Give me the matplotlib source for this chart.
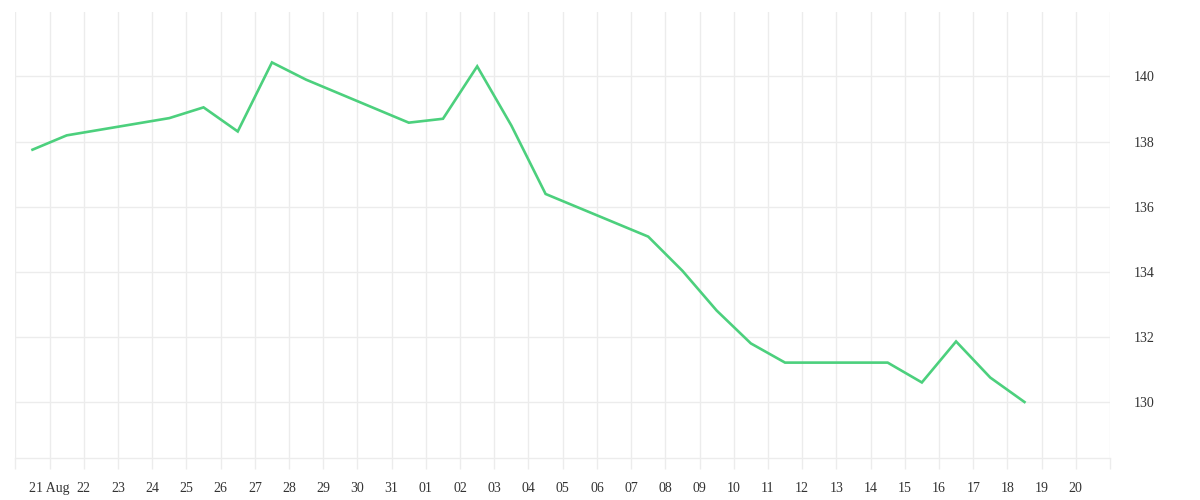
import matplotlib
matplotlib.use("Agg")
import matplotlib.pyplot as plt
import matplotlib.dates as mdates
import pandas as pd
import numpy as np

dates = ["2024-08-20", "2024-08-21", "2024-08-24", "2024-08-25", "2024-08-26",
         "2024-08-27", "2024-08-28", "2024-08-31", "2024-09-01", "2024-09-02",
         "2024-09-03", "2024-09-04", "2024-09-07", "2024-09-08", "2024-09-09",
         "2024-09-10", "2024-09-11", "2024-09-14", "2024-09-15", "2024-09-16",
         "2024-09-17", "2024-09-18"]
values = [137.75, 138.19, 138.72, 139.05, 138.31,
          140.43, 139.90, 138.58, 138.70, 140.31,
          138.49, 136.39, 135.08, 134.03, 132.81,
          131.80, 131.21, 131.21, 130.60, 131.86,
          130.75, 130.00]
y_ticks = [130, 132, 134, 136, 138, 140]
axis_start = "2024-08-20"
axis_end = "2024-09-21"

plt.rcParams['font.family'] = ['Liberation Serif', 'DejaVu Serif']

fig = plt.figure(figsize=(12, 5), dpi=100)
ax = fig.add_axes([15.4 / 1200, 42 / 500, (1110 - 15.4) / 1200, (458 - 12.3) / 500])

x = pd.to_datetime(dates) + pd.Timedelta(hours=12)
ax.plot(x, values, color="#4cd07d", linewidth=1.9, solid_joinstyle="miter", zorder=3)

start = pd.Timestamp(axis_start)
end = pd.Timestamp(axis_end)
ax.set_xlim(start, end)
ax.set_ylim(128.28, 141.97)

days = pd.date_range(start, end, freq="D")
ax.set_xticks(days)
labels = []
for i, d in enumerate(days):
    if i == 0 or i == len(days) - 1:
        labels.append("")
    elif i == 1:
        labels.append(d.strftime("%d %b"))
    else:
        labels.append(d.strftime("%d"))
ax.set_xticklabels(labels)

ax.yaxis.tick_right()
ax.set_yticks(y_ticks)
ax.set_yticklabels([str(v) for v in y_ticks])

grid_color = "#ececec"
ax.grid(True, color=grid_color, linewidth=1.0, zorder=0)
for s in ["top", "left", "right"]:
    ax.spines[s].set_visible(False)
ax.spines["bottom"].set_color(grid_color)
ax.spines["bottom"].set_linewidth(1.0)

ax.tick_params(axis="x", length=8, width=1.0, color=grid_color, labelsize=10,
               labelcolor="#333333", pad=9)
ax.tick_params(axis="y", length=0, labelsize=10, labelcolor="#333333", pad=17)

fig.savefig("out.png", dpi=100, facecolor="white")
